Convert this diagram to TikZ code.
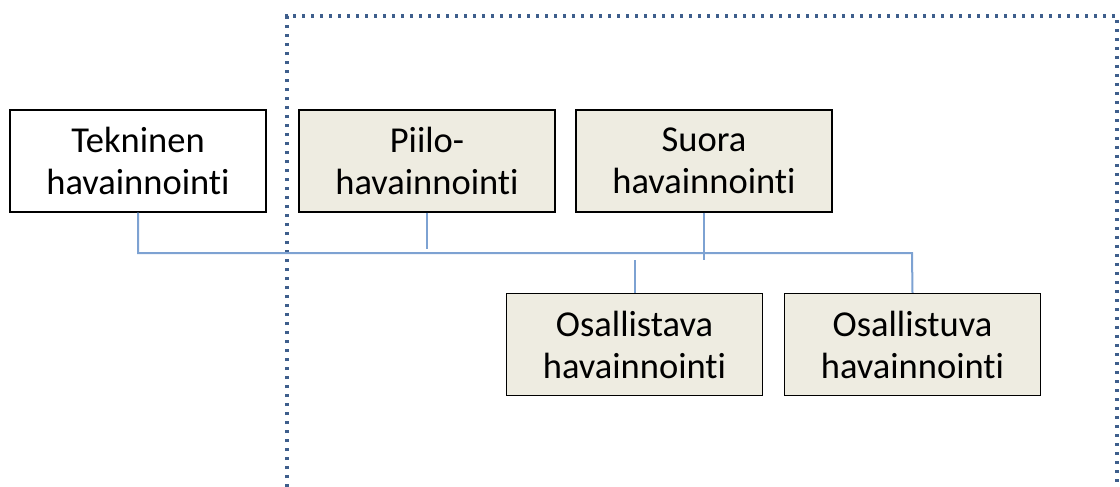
\documentclass[tikz,border=0pt]{standalone}
\usepackage{fontspec}
\setmainfont[Ligatures = NoCommon]{Carlito}
\usepackage{xcolor}
\usetikzlibrary{calc}

\definecolor{boxfill}{RGB}{238,236,225}
\definecolor{linkblue}{RGB}{125,162,210}
\definecolor{dotblue}{RGB}{62,94,140}

\tikzset{
	tapa/.style = {draw = black, line width = 1.4pt, minimum width = 256pt, minimum height = 102pt,
		align = center, font = \fontsize{36.5}{42}\selectfont, inner sep = 0pt},
	osa/.style = {tapa, fill = boxfill},
	linkki/.style = {draw = linkblue, line width = 2pt},
}

\begin{document}
\begin{tikzpicture}[x = 1pt, y = -1pt]
					\useasboundingbox (0,0) rectangle (1120,487);
					\def\bus{253};
					
					% rajaus
					\draw [dotblue, line width = 3.2pt, dash pattern = on 3.2pt off 5.8pt]
						(287,487) -- (287,16) -- (1117,16) -- (1117,487);
					
					\begin{scope}
						\node [tapa] (tek) at (138,161) {Tekninen\\havainnointi};
						\node [osa] (piilo) at (427,161) {Piilo-\\havainnointi};
						\node [osa] (suora) at (704,161) {Suora\\havainnointi};
						\node [osa] (ovava) at (634.5,344.5) {Osallistava\\havainnointi};
						\node [osa] (ovuva) at (912.5,344.5) {Osallistuva\\havainnointi};
					\end{scope}
					
					\begin{scope}
						\coordinate (b) at (912,\bus);
						\draw [linkki] (tek.south) |- (b) -- (ovuva.north);
						\draw [linkki] (piilo.south) -- ++(0,36);
						\draw [linkki] (suora.south) -- ++(0,47);
						\draw [linkki] (ovava.north) -- ++(0,-33);
					\end{scope}
				\end{tikzpicture}
\end{document}
